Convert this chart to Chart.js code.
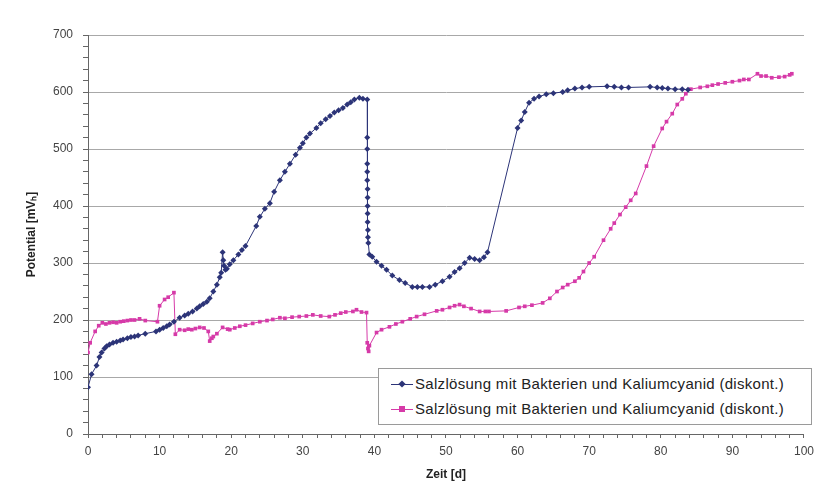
<!DOCTYPE html>
<html>
<head>
<meta charset="utf-8">
<script src="https://cdn.jsdelivr.net/npm/chart.js@4.4.0/dist/chart.umd.min.js"></script>
<style>
  body { margin: 0; background: #fff; }
  #wrap { position: relative; width: 820px; height: 496px; }
  #legend {
    position: absolute; left: 378px; top: 368px; width: 432px; height: 55px;
    border: 1px solid #9a9a9a; background: #fff;
    font-family: "Liberation Sans", Arial, sans-serif; font-size: 15px; letter-spacing: 0.3px; color: #222;
  }
  .item { position: absolute; left: 12px; height: 20px; line-height: 20px; white-space: nowrap; }
  .mark { display: inline-block; position: relative; width: 22px; height: 20px; vertical-align: top; margin-right: 2px; }
  .mark .ln { position: absolute; left: 0; right: 0; top: 10px; height: 1px; }
  .mark .pt { position: absolute; left: 8px; top: 7px; width: 6px; height: 6px; }
</style>
</head>
<body>
<div id="wrap">
  <canvas id="lineChart" width="820" height="496"></canvas>
  <div id="legend"></div>
</div>
<script>
const CHART = document.getElementById("lineChart");

// series 1 (dark blue, diamonds)
const blueDays = [0, 0.5, 1.2, 1.6, 1.9, 2.3, 2.6, 3.0, 3.5, 4.0, 4.5, 4.9, 5.5, 6.0, 6.5, 7.0, 8.0, 9.5, 10.0, 10.5,
  11.0, 11.4, 12.0, 12.8, 13.5, 14.0, 14.6, 15.2, 15.6, 16.1, 16.6, 17.0, 17.5, 18.0, 18.4, 18.6, 18.8, 18.9, 19.0, 19.2,
  19.4, 19.8, 20.3, 21.0, 21.5, 22.0, 23.5, 24.0, 24.7, 25.4, 26.0, 26.8, 27.5, 28.2, 29.0, 29.6, 30.0, 30.5, 31.0, 31.9,
  32.5, 33.2, 33.8, 34.4, 35.0, 35.6, 36.2, 36.7, 37.2, 37.9, 38.4, 39.0, 39.0, 39.0, 39.0, 39.0, 39.0, 39.05, 39.05, 39.05,
  39.05, 39.05, 39.1, 39.1, 39.15, 39.3, 39.7, 40.3, 41.0, 41.7, 42.5, 43.5, 44.3, 45.3, 46.0, 46.7, 47.7, 48.5, 49.5, 50.5,
  51.2, 51.9, 52.6, 53.3, 54.0, 54.7, 55.3, 55.8, 60.0, 60.5, 61.0, 61.6, 62.3, 63.0, 64.0, 65.0, 66.3, 67.0, 68.0, 69.0,
  70.0, 72.5, 73.5, 74.5, 75.5, 78.5, 79.5, 80.2, 81.0, 82.0, 83.0, 83.8];
const bluePot = [82, 105, 120, 135, 143, 150, 154, 157, 160, 162, 164, 166, 168, 170, 171, 173, 176, 180, 183, 186,
  189, 192, 197, 204, 208, 211, 215, 220, 224, 228, 232, 238, 250, 262, 275, 283, 319, 305, 295, 288,
  290, 298, 305, 315, 323, 330, 365, 381, 395, 405, 425, 445, 460, 474, 490, 502, 510, 520, 527, 537,
  545, 552, 558, 564, 568, 572, 578, 582, 587, 590, 588, 587, 520, 500, 474, 460, 445, 430, 415, 400,
  387, 372, 358, 345, 335, 315, 311, 302, 295, 288, 278, 270, 265, 258, 258, 258, 258, 262, 268, 276,
  284, 291, 300, 309, 307, 305, 310, 319, 537, 550, 565, 581, 588, 592, 596, 598, 600, 603, 606, 608,
  609, 610, 609, 608, 608, 609, 608, 607, 606, 605, 605, 604];

// series 2 (magenta, squares)
const pinkDays = [0, 0.3, 1.0, 1.5, 2.0, 2.5, 3.0, 3.5, 4.0, 4.5, 5.0, 5.5, 6.0, 6.5, 7.2, 8.0, 9.7, 10.0, 10.7, 11.2,
  12.0, 12.2, 12.8, 13.5, 14.0, 14.5, 15.0, 15.6, 16.2, 16.8, 17.0, 17.3, 17.5, 18.0, 18.8, 19.5, 19.8, 20.5, 21.2, 22.0,
  23.0, 24.0, 25.0, 25.8, 26.8, 27.5, 28.5, 29.5, 30.5, 31.4, 32.5, 33.7, 34.5, 35.3, 36.0, 37.0, 37.5, 38.2, 38.9, 39.0,
  39.1, 39.2, 39.3, 40.3, 41.0, 42.1, 43.0, 43.9, 45.0, 45.9, 47.0, 48.7, 49.5, 50.5, 51.2, 51.9, 52.5, 53.5, 54.7, 55.5,
  56.0, 58.4, 60.2, 61.0, 62.0, 63.5, 64.5, 65.5, 66.3, 67.0, 68.0, 68.6, 69.2, 70.0, 70.7, 72.0, 73.0, 73.5, 74.3, 75.1,
  75.8, 76.5, 78.0, 79.0, 80.2, 80.8, 81.6, 82.3, 83.0, 83.5, 84.2, 85.5, 86.5, 87.2, 88.0, 89.0, 90.0, 91.0, 91.6, 92.3,
  93.5, 94.0, 94.7, 95.5, 96.5, 97.3, 98.0, 98.3];
const pinkPot = [143, 160, 180, 190, 195, 193, 195, 196, 195, 197, 198, 199, 200, 200, 202, 199, 197, 225, 236, 240,
  248, 175, 183, 182, 184, 183, 185, 187, 186, 180, 163, 168, 171, 176, 187, 184, 183, 186, 189, 191,
  194, 197, 199, 201, 204, 203, 205, 206, 207, 209, 207, 206, 209, 212, 214, 215, 218, 214, 213, 160,
  150, 145, 155, 178, 183, 188, 193, 197, 202, 206, 210, 216, 218, 222, 225, 227, 224, 220, 215, 215,
  215, 216, 222, 224, 226, 230, 238, 250, 257, 262, 268, 274, 285, 300, 311, 340, 360, 370, 385, 398,
  410, 422, 470, 505, 536, 548, 562, 578, 588, 597, 605, 608, 610, 612, 614, 616, 618, 620, 622, 622,
  632, 628, 628, 625, 626, 627, 630, 632];

const seriesLabel = "Salzlösung mit Bakterien und Kaliumcyanid (diskont.)";
const BLUE = "#2c3478";
const PINK = "#d63aa8";

function toPoints(xs, ys) {
    return xs.map((x, i) => ({ x: x, y: ys[i] }));
}

const FONT = "'Liberation Sans', Arial, sans-serif";

const lineChart = new Chart(CHART, {
    type: 'line',
    data: {
        datasets: [{
            label: seriesLabel,
            data: toPoints(blueDays, bluePot),
            borderColor: BLUE,
            backgroundColor: BLUE,
            borderWidth: 1,
            pointStyle: 'rectRot',
            pointRadius: 3,
            pointBorderWidth: 0
        }, {
            label: seriesLabel,
            data: toPoints(pinkDays, pinkPot),
            borderColor: PINK,
            backgroundColor: PINK,
            borderWidth: 1,
            pointStyle: 'rect',
            pointRadius: 2.6,
            pointBorderWidth: 0
        }]
    },
    options: {
        responsive: false,
        animation: false,
        layout: { padding: { left: 0, right: 14, top: 35, bottom: 0 } },
        plugins: { legend: { display: false }, tooltip: { enabled: false } },
        scales: {
            x: {
                type: 'linear',
                min: 0, max: 100,
                afterFit: (s) => { s.height = 62; },
                border: { color: '#666', width: 1 },
                grid: { drawOnChartArea: false, tickColor: '#666', tickLength: 4 },
                ticks: {
                    stepSize: 2, autoSkip: false, maxRotation: 0, padding: 6,
                    color: '#444', font: { family: FONT, size: 12 },
                    callback: (v) => v % 10 === 0 ? v : ''
                },
                title: {
                    display: true, text: 'Zeit [d]', color: '#222',
                    font: { family: FONT, size: 12, weight: 'bold' },
                    padding: { top: 4, bottom: 14 }
                }
            },
            y: {
                min: 0, max: 700,
                afterFit: (s) => { s.width = 88; },
                border: { color: '#666', width: 1 },
                grid: {
                    color: (c) => c.tick && c.tick.value % 100 === 0 ? '#a8a8a8' : 'rgba(0,0,0,0)',
                    tickColor: '#666', tickLength: 5
                },
                ticks: {
                    stepSize: 20, autoSkip: false, padding: 10,
                    color: '#444', font: { family: FONT, size: 12 },
                    callback: (v) => v % 100 === 0 ? v : ''
                },
                title: {
                    display: true, text: 'Potential [mV\u2095]', color: '#222',
                    font: { family: FONT, size: 12, weight: 'bold' },
                    padding: { top: 24, bottom: 4 }
                }
            }
        }
    }
});

// legend box inside the plot, like the original
const legend = document.getElementById("legend");
lineChart.data.datasets.forEach((ds, i) => {
    const item = document.createElement("div");
    item.className = "item";
    item.style.top = (5 + i * 25) + "px";
    const rot = ds.pointStyle === 'rectRot' ? 'transform: rotate(45deg) scale(0.85);' : '';
    item.innerHTML = '<span class="mark"><span class="ln" style="background:' + ds.borderColor + '"></span>' +
        '<span class="pt" style="background:' + ds.backgroundColor + ';' + rot + '"></span></span>' + ds.label;
    legend.appendChild(item);
});
</script>
</body>
</html>
